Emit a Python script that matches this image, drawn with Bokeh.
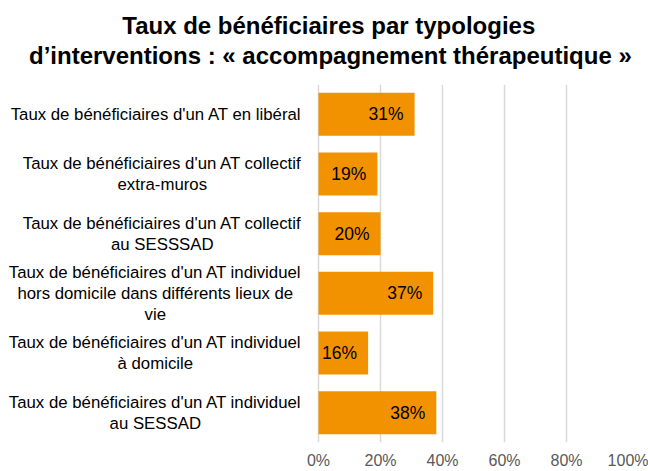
from bokeh.plotting import figure
from bokeh.models import FactorRange, Range1d, FixedTicker, ColumnDataSource, Title
from bokeh.core.properties import value
from bokeh.embed import file_html
from bokeh.resources import INLINE

title_lines = [
    "Taux de bénéficiaires par typologies",
    "d’interventions : « accompagnement thérapeutique »",
]
categories = [
    "Taux de bénéficiaires d'un AT en libéral",
    "Taux de bénéficiaires d'un AT collectif\nextra-muros",
    "Taux de bénéficiaires d'un AT collectif\nau SESSSAD",
    "Taux de bénéficiaires d'un AT individuel\nhors domicile dans différents lieux de\nvie",
    "Taux de bénéficiaires d'un AT individuel\nà domicile",
    "Taux de bénéficiaires d'un AT individuel\nau SESSAD",
]
values = [31, 19, 20, 37, 16, 38]
tick_values = [0, 20, 40, 60, 80, 100]
tick_labels = ["0%", "20%", "40%", "60%", "80%", "100%"]

FONT = "Liberation Sans"
ORANGE = "#F39200"
LABEL_SIZE = 16.8
TITLE_PX = 24
TITLE_CENTER = 327.5  # px from the frame's left edge

# Arial / Liberation Sans advance widths (1/1000 em)
ARIAL = {" ": 278, "'": 191, "-": 333, "A": 667, "D": 722, "E": 667, "S": 667, "T": 611,
         "a": 556, "b": 556, "c": 500, "d": 556, "e": 556, "f": 278, "g": 556, "h": 556,
         "i": 222, "l": 222, "m": 833, "n": 556, "o": 556, "p": 556, "r": 333, "s": 500,
         "t": 278, "u": 556, "v": 500, "x": 500, "é": 556, "à": 556}
ARIAL_BOLD = {" ": 278, "’": 278, ":": 333, "«": 556, "»": 556, "T": 611,
              "a": 556, "b": 611, "c": 556, "d": 611, "e": 556, "f": 333, "g": 611, "h": 611,
              "i": 278, "l": 278, "m": 889, "n": 611, "o": 611, "p": 611, "q": 611, "r": 389,
              "s": 556, "t": 333, "u": 611, "v": 556, "x": 556, "y": 556, "é": 556}


def text_width(s, size, table=ARIAL, k=1.0):
    return sum(table.get(c, 556) for c in s) * size / 1000.0 * k


label_xoff = [-15 - max(text_width(l, LABEL_SIZE) for l in c.split("\n")) / 2 for c in categories]
title_offsets = [TITLE_CENTER - text_width(t, TITLE_PX, ARIAL_BOLD, 0.992) / 2 for t in title_lines]

src = ColumnDataSource(dict(
    cat=categories,
    val=values,
    txt=[f"{v}%" for v in values],
    zero=[0] * len(values),
    xoff=label_xoff,
))

p = figure(width=648, height=471,
           x_range=Range1d(-102.58, 100),
           y_range=FactorRange(factors=categories[::-1]),
           output_backend="svg", toolbar_location=None,
           y_axis_location=None, title=None,
           min_border_left=0, min_border_right=20,
           min_border_top=84, min_border_bottom=27)

p.add_layout(Title(text=title_lines[1], align="left", offset=title_offsets[1],
                   vertical_align="top", standoff=27.2,
                   text_font=FONT, text_font_size=f"{TITLE_PX}px", text_font_style="bold",
                   text_color="black"), "above")
p.add_layout(Title(text=title_lines[0], align="left", offset=title_offsets[0],
                   vertical_align="bottom", standoff=-20.8,
                   text_font=FONT, text_font_size=f"{TITLE_PX}px", text_font_style="bold",
                   text_color="black"), "above")

p.hbar(y="cat", right="val", left=0, height=0.72, source=src,
       fill_color=ORANGE, line_color=None)

p.text(x="val", y="cat", text="txt", source=src, x_offset=-11,
       text_align="right", text_baseline="middle",
       text_font=value(FONT), text_font_size="17.5px", text_color="black")

p.text(x="zero", y="cat", text="cat", source=src, x_offset="xoff",
       text_align="center", text_baseline="middle", text_line_height=1.12,
       text_font=value(FONT), text_font_size=f"{LABEL_SIZE}px", text_color="black")

p.xaxis.ticker = FixedTicker(ticks=tick_values)
p.xaxis.major_label_overrides = dict(zip(tick_values, tick_labels))
p.xaxis.axis_line_color = None
p.xaxis.major_tick_line_color = None
p.xaxis.major_tick_out = 0
p.xaxis.major_tick_in = 0
p.xaxis.minor_tick_line_color = None
p.xaxis.minor_tick_out = 0
p.xaxis.major_label_standoff = 9
p.xaxis.major_label_text_font = FONT
p.xaxis.major_label_text_font_size = "16px"
p.xaxis.major_label_text_color = "#595959"

p.xgrid.ticker = FixedTicker(ticks=tick_values)
p.xgrid.grid_line_color = "#D9D9D9"
p.xgrid.grid_line_width = 1.5
p.ygrid.grid_line_color = None
p.outline_line_color = None
p.background_fill_color = "white"
p.border_fill_color = "white"

open("out.html", "w").write(file_html(p, INLINE))
